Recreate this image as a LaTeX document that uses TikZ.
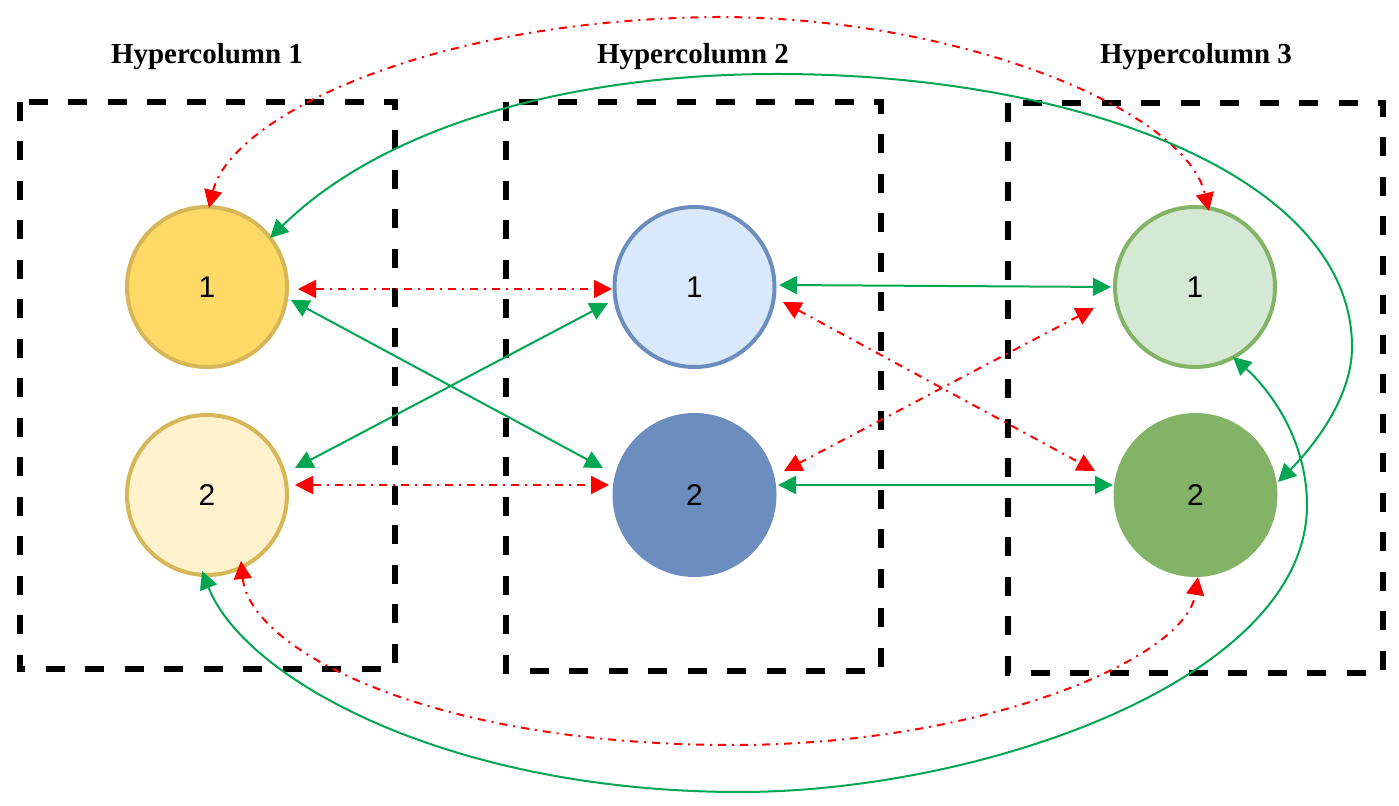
\documentclass[tikz,border=0pt]{standalone}
\usepackage{fontspec}
\setmainfont{Liberation Serif}
\setsansfont{Liberation Sans}
\usetikzlibrary{arrows.meta,calc}
\definecolor{yA}{HTML}{FFD966}
\definecolor{yB}{HTML}{FFF2CC}
\definecolor{yS}{HTML}{D6B656}
\definecolor{bA}{HTML}{DAE8FC}
\definecolor{bS}{HTML}{6C8EBF}
\definecolor{gA}{HTML}{D5E8D4}
\definecolor{gS}{HTML}{82B366}
\definecolor{lnG}{HTML}{00A651}
\definecolor{lnR}{HTML}{FF0000}
\begin{document}
\begin{tikzpicture}[x=0.5pt,y=-0.5pt,
  cnode/.style={circle, minimum size=80pt, inner sep=0pt, line width=2pt,
    font=\fontsize{15}{18}\selectfont\sffamily},
  hbox/.style={draw=black, line width=3pt, dash pattern=on 9.5pt off 10.25pt},
  htitle/.style={anchor=base, inner sep=0pt, font=\fontsize{14.5}{17}\selectfont\bfseries},
  tipA/.tip={Triangle[length=9pt,width=9pt]},
  grn/.style={draw=lnG, line width=1pt, {tipA}-{tipA}},
  rdl/.style={draw=lnR, line width=1pt, dash pattern=on 4pt off 3pt on 1pt off 3pt, {tipA}-{tipA}, lnR},
]
\useasboundingbox (0,0) rectangle (1399,806);

% hypercolumn boxes
\draw[hbox] (20,102) rectangle (395,669);
\draw[hbox] (506,102) rectangle (881,671);
\draw[hbox] (1008,103) rectangle (1383,673);

% titles
\node[htitle] (t1) at (207,64) {Hypercolumn 1};
\node[htitle] (t2) at (693,64) {Hypercolumn 2};
\node[htitle] (t3) at (1196,64) {Hypercolumn 3};

% units
\node[cnode, fill=yA, draw=yS] (a1) at (207,287) {1};
\node[cnode, fill=yB, draw=yS] (a2) at (207,495) {2};
\node[cnode, fill=bA, draw=bS] (b1) at (694.5,287) {1};
\node[cnode, fill=bS, draw=bS] (b2) at (694.5,495) {2};
\node[cnode, fill=gA, draw=gS] (c1) at (1195,287) {1};
\node[cnode, fill=gS, draw=gS] (c2) at (1195.5,495) {2};

% straight connectors
\draw[rdl] ($(a1)+(91,2)$) -- ($(b1)+(-82.5,2)$);
\draw[grn] ($(a1)+(84,13)$) -- ($(b2)+(-91.5,-27)$);
\draw[grn] ($(a2)+(88,-27)$) -- ($(b1)+(-86.5,16)$);
\draw[rdl] ($(a2)+(88,-10)$) -- ($(b2)+(-85.5,-10)$);
\draw[grn] ($(b1)+(84.5,-2)$) -- ($(c1)+(-84,0)$);
\draw[rdl] ($(b1)+(88.5,15)$) -- ($(c2)+(-100.5,-24)$);
\draw[rdl] ($(c1)+(-101,21)$) -- ($(b2)+(89.5,-24)$);
\draw[grn] ($(b2)+(83.5,-10)$) -- ($(c2)+(-82.5,-10)$);

% long curved connectors
\draw[rdl] ($(a1)+(2,-79)$) .. controls (230,120) and (420,20) .. (717,17)
  .. controls (960,17) and (1185,110) .. ($(c1)+(14,-76)$);
\draw[grn] ($(a1)+(63,-49)$) .. controls (380,130) and (560,74) .. (777,74)
  .. controls (1080,74) and (1352,177) .. (1352,347)
  .. controls (1352,400) and (1310,450) .. ($(c2)+(82.5,-13)$);
\draw[grn] ($(a2)+(-5,76)$) .. controls (245,680) and (450,792) .. (740,792)
  .. controls (980,792) and (1307,680) .. (1307,505)
  .. controls (1307,440) and (1270,390) .. ($(c1)+(38,70)$);
\draw[rdl] ($(a2)+(34,66)$) .. controls (250,650) and (430,745) .. (733,745)
  .. controls (980,745) and (1185,660) .. ($(c2)+(2.5,82)$);
\end{tikzpicture}
\end{document}
